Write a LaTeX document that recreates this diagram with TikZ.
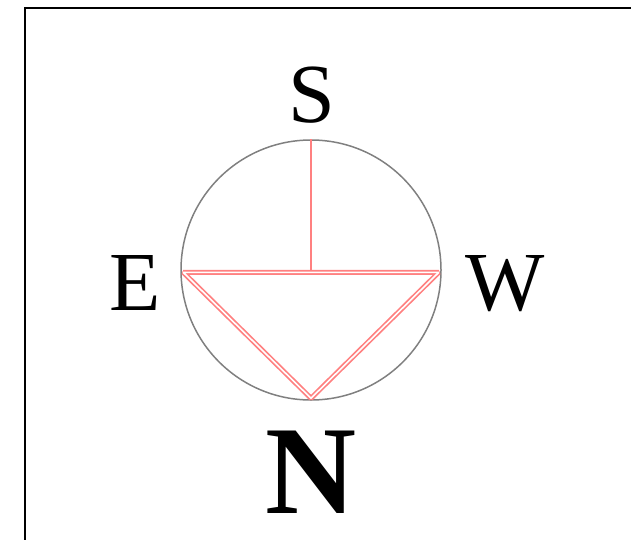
\documentclass[tikz,border=0pt]{standalone}
\usepackage{fontspec}
\setmainfont{Liberation Serif}
\begin{document}
\begin{tikzpicture}[x=1pt,y=-1pt,
  lbl/.style={inner sep=0pt, anchor=base, font=\fontsize{84}{84}\selectfont},
  pinkline/.style={draw={rgb,255:red,255;green,128;blue,128}, line width=2pt},
  pinkdouble/.style={draw={rgb,255:red,255;green,128;blue,128}, double=white, double distance=1.6pt, line width=1.7pt, line join=bevel}]
\useasboundingbox (0,0) rectangle (631,540);
\draw[line width=2.2pt] (25,560) -- (25,8) -- (650,8);
\node[circle, draw={rgb,255:red,128;green,128;blue,128}, line width=1.5pt, minimum size=260pt, inner sep=0pt] (c) at (311,270) {};
\coordinate (e) at ([shift={(3,2.4)}]c.west);
\coordinate (w) at ([shift={(-3,2.4)}]c.east);
\coordinate (n) at ([shift={(0,-2.5)}]c.south);
\coordinate (s) at (c.north);
\coordinate (m) at (c.center);
\draw[pinkline] (s) -- (m);
\draw[pinkdouble] (e) -- (w) -- (n) -- cycle;
\node[lbl] (ls) at (312,123) {S};
\node[lbl] (le) at (135,310) {E};
\node[lbl] (lw) at (505,310) {W};
\node[lbl, font=\fontsize{126}{126}\selectfont\bfseries] (ln) at (311,513) {N};
\end{tikzpicture}
\end{document}
